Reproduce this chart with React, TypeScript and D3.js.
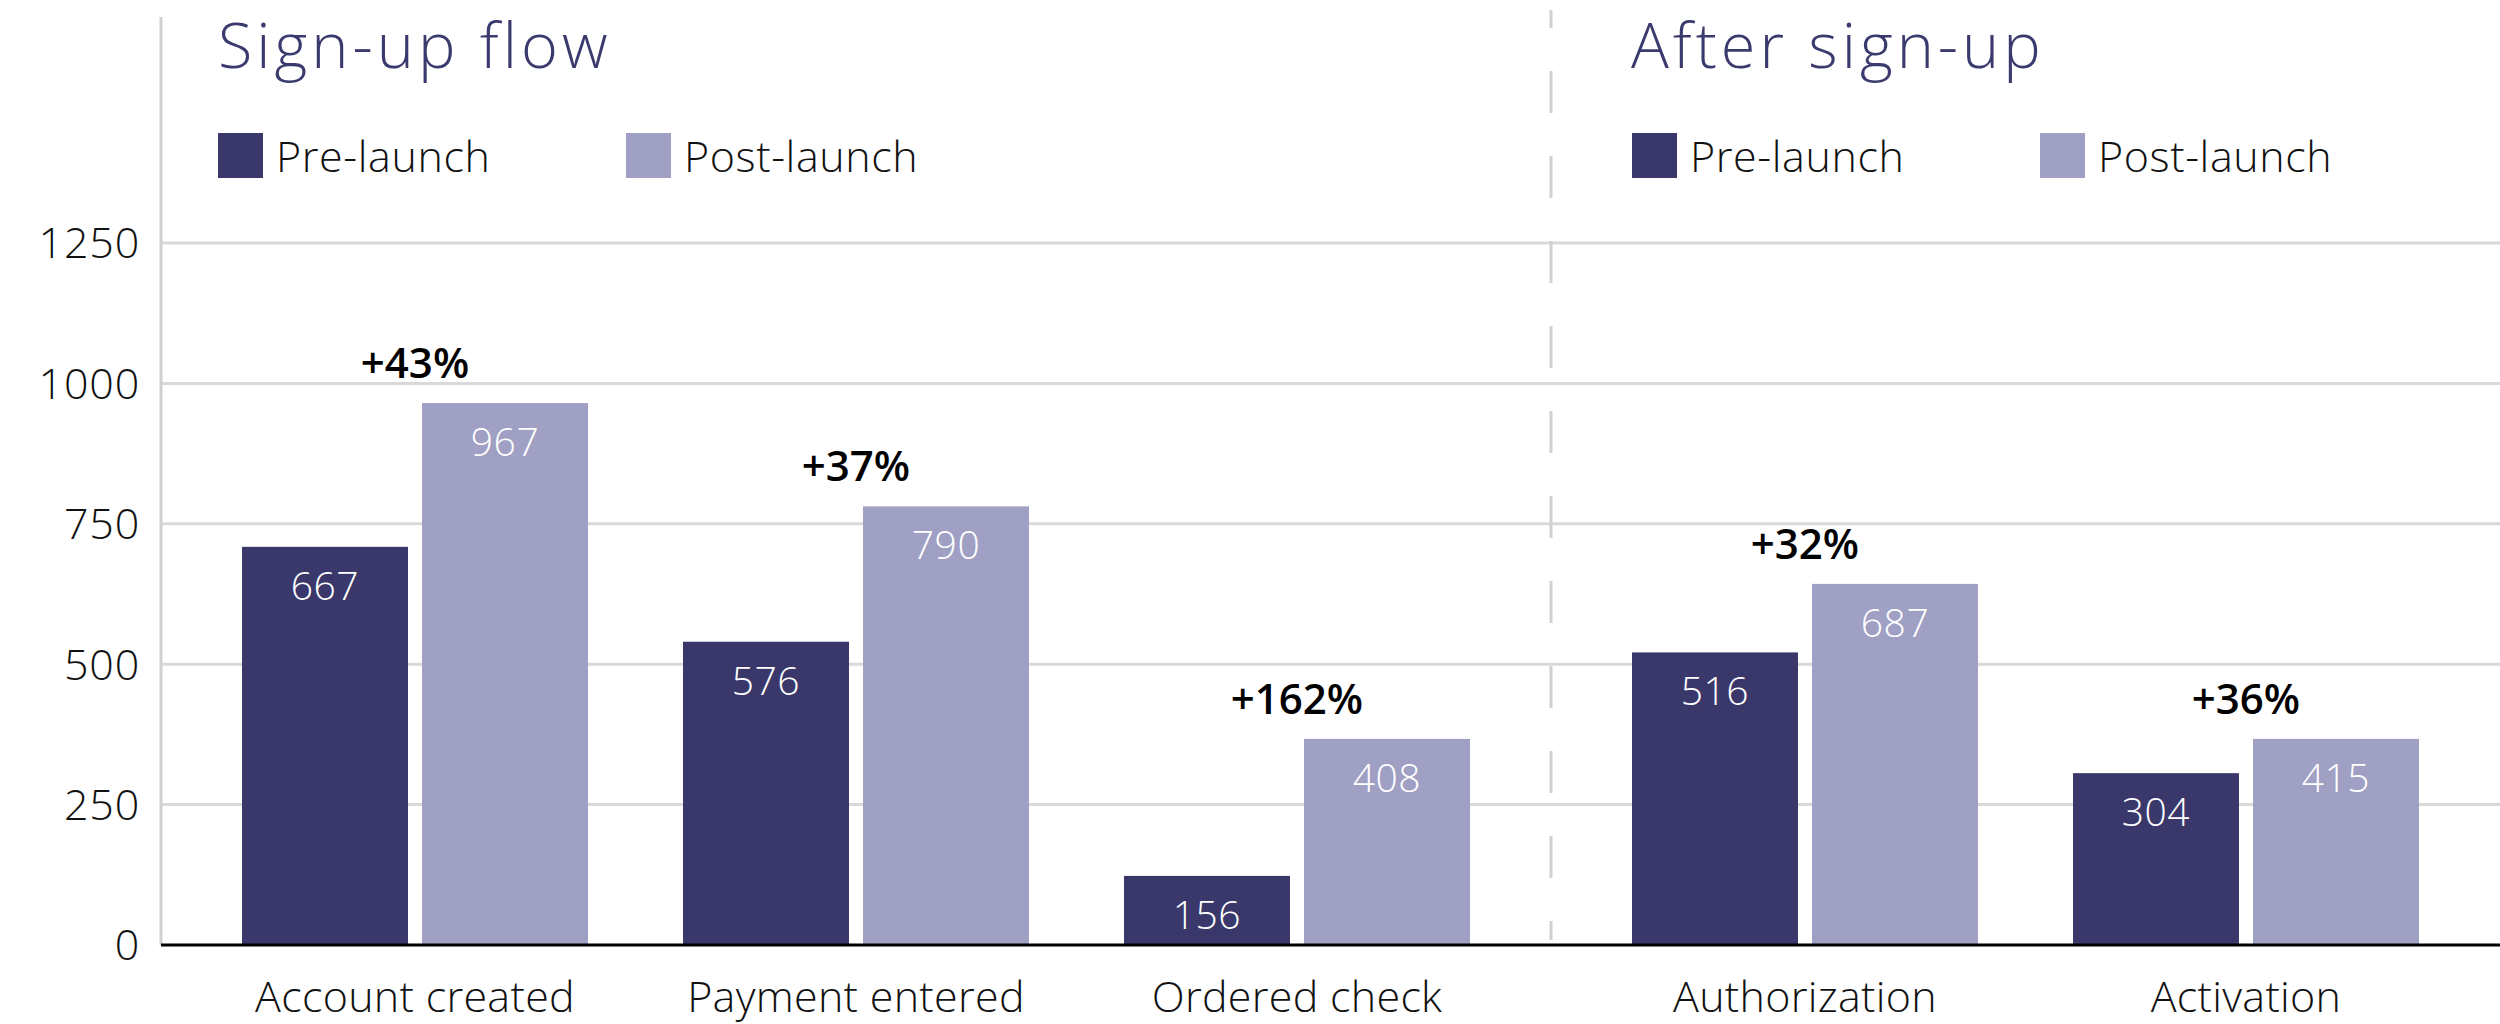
import React from "react";
import * as d3 from "d3";

// ---- data ----
const signupCategories = ["Account created", "Payment entered", "Ordered check"];
const signupPre = [709, 540, 123];
const signupPost = [965, 781, 367];
const signupPreLabels = ["667", "576", "156"];
const signupPostLabels = ["967", "790", "408"];
const signupChange = ["+43%", "+37%", "+162%"];

const afterCategories = ["Authorization", "Activation"];
const afterPre = [521, 306];
const afterPost = [643, 367];
const afterPreLabels = ["516", "304"];
const afterPostLabels = ["687", "415"];
const afterChange = ["+32%", "+36%"];

const yTicks = [0, 250, 500, 750, 1000, 1250];
const seriesKeys = ["pre", "post"];
const seriesNames = ["Pre-launch", "Post-launch"];
const panelTitles = ["Sign-up flow", "After sign-up"];

// ---- styling / layout ----
const W = 2500;
const H = 1024;
const PRE = "#3a386a";
const POST = "#a09fc4";
const TITLE = "#3b3a6e";
const GRID = "#d9d9d9";
const FONT = "'Open Sans', 'Noto Sans', sans-serif";
const axisX = 161;
const dividerX = 1551;
const colors = [PRE, POST];

const y = d3.scaleLinear().domain([0, 1250]).range([945, 243]);
const xLeft = d3.scalePoint().domain(signupCategories).range([axisX, dividerX]).padding(0.576);
const xRight = d3.scalePoint().domain(afterCategories).range([dividerX, W]).padding(0.576);
const inner = d3.scaleBand().domain(seriesKeys).range([-173, 173]).paddingInner(0.078);

function Panel({ cats, pre, post, preL, postL, change, x }) {
  return (
    <g>
      {cats.map((c, i) => {
        const cx = x(c);
        const vals = [pre[i], post[i]];
        const labs = [preL[i], postL[i]];
        const top = Math.min(y(pre[i]), y(post[i]));
        return (
          <g key={c}>
            {seriesKeys.map((k, j) => (
              <g key={k}>
                <rect
                  x={cx + inner(k)}
                  y={y(vals[j])}
                  width={inner.bandwidth()}
                  height={y(0) - y(vals[j])}
                  fill={colors[j]}
                />
                <text
                  x={cx + inner(k) + inner.bandwidth() / 2}
                  y={y(vals[j]) + 53}
                  textAnchor="middle"
                  fontSize={39}
                  fontWeight={300}
                  fill="#ffffff"
                  letterSpacing={0.5}
                >
                  {labs[j]}
                </text>
              </g>
            ))}
            <text x={cx} y={top - 25} textAnchor="middle" fontSize={42} fontWeight={600} fill="#000">
              {change[i]}
            </text>
            <text x={cx} y={1012} textAnchor="middle" fontSize={43} fontWeight={300} fill="#111" letterSpacing={0.3}>
              {c}
            </text>
          </g>
        );
      })}
    </g>
  );
}

function Legend({ x0 }) {
  return (
    <g>
      {seriesNames.map((n, j) => (
        <g key={n} transform={`translate(${x0 + j * 408},133)`}>
          <rect width={45} height={45} fill={colors[j]} />
          <text x={58} y={39} fontSize={43} fontWeight={300} fill="#111" letterSpacing={0.6}>
            {n}
          </text>
        </g>
      ))}
    </g>
  );
}

export default function App() {
  return (
    <svg
      width={W}
      height={H}
      style={{ position: "absolute", left: 0, top: 0, background: "#fff" }}
      fontFamily={FONT}
    >
      {/* gridlines */}
      {yTicks.filter((t) => t > 0).map((t) => (
        <line key={t} x1={axisX} x2={W} y1={y(t)} y2={y(t)} stroke={GRID} strokeWidth={3} />
      ))}
      {/* y axis line */}
      <line x1={axisX} x2={axisX} y1={17} y2={y(0)} stroke="#d0d0d0" strokeWidth={3} />
      {/* divider */}
      <line
        x1={dividerX}
        x2={dividerX}
        y1={10}
        y2={940}
        stroke="#d0d0d0"
        strokeWidth={3}
        strokeDasharray="42 43"
        strokeDashoffset={24}
      />
      {/* y tick labels */}
      {yTicks.map((t) => (
        <text key={t} x={140} y={y(t)} dy="0.36em" textAnchor="end" fontSize={43} fontWeight={300} fill="#111" letterSpacing={0.8}>
          {t}
        </text>
      ))}
      <Panel
        cats={signupCategories}
        pre={signupPre}
        post={signupPost}
        preL={signupPreLabels}
        postL={signupPostLabels}
        change={signupChange}
        x={xLeft}
      />
      <Panel
        cats={afterCategories}
        pre={afterPre}
        post={afterPost}
        preL={afterPreLabels}
        postL={afterPostLabels}
        change={afterChange}
        x={xRight}
      />
      {/* baseline */}
      <line x1={axisX} x2={W} y1={y(0)} y2={y(0)} stroke="#000" strokeWidth={3} />
      {/* titles */}
      <text x={218} y={67.5} fontSize={63} fontWeight={300} fill={TITLE} letterSpacing={4}>
        {panelTitles[0]}
      </text>
      <text x={1631} y={67.5} fontSize={63} fontWeight={300} fill={TITLE} letterSpacing={4}>
        {panelTitles[1]}
      </text>
      <Legend x0={218} />
      <Legend x0={1632} />
    </svg>
  );
}
